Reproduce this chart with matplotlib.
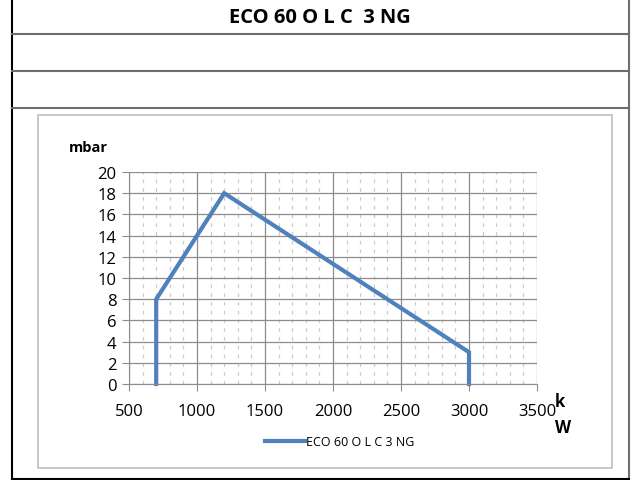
import matplotlib.pyplot as plt
from matplotlib.lines import Line2D
from matplotlib.patches import Rectangle
from matplotlib.ticker import MultipleLocator

# data
power_kw = [700, 700, 1200, 3000, 3000]
pressure_mbar = [0, 8, 18, 3, 0]
series_name = 'ECO 60 O L C 3 NG'
title_text = 'ECO 60 O L C  3 NG'

W, H = 633, 481
fig = plt.figure(figsize=(W / 100, H / 100), dpi=100)

def fx(px):
    return px / W

def fy(py):
    return 1 - py / H

# table frame around the chart
fig.add_artist(Line2D([fx(12), fx(12)], [fy(0), fy(480)], color='black', lw=1.5))
fig.add_artist(Line2D([fx(628.5), fx(628.5)], [fy(0), fy(480)], color='#707070', lw=1.5))
fig.add_artist(Line2D([fx(12), fx(628.5)], [fy(479.5), fy(479.5)], color='black', lw=1.5))
for yy in [35, 72, 109]:
    fig.add_artist(Line2D([fx(12), fx(628.5)], [fy(yy), fy(yy)], color='#6d6d6d', lw=1.5))

# inner chart frame
fig.add_artist(Rectangle((fx(38), fy(469)), fx(612) - fx(38), fy(116) - fy(469),
                         fill=False, edgecolor='#bfbfbf', lw=1.2))

fig.text(fx(320), fy(18), title_text, ha='center', va='center',
         fontsize=14.5, fontweight='bold', family='Open Sans')

ax = fig.add_axes([fx(129), fy(385), fx(537) - fx(129), fy(173) - fy(385)])
ax.plot(power_kw, pressure_mbar, color='#4f81bd', lw=3, label=series_name,
        solid_joinstyle='miter', clip_on=False)

ax.set_xlim(500, 3500)
ax.set_ylim(0, 20)
ax.xaxis.set_major_locator(MultipleLocator(500))
ax.xaxis.set_minor_locator(MultipleLocator(100))
ax.yaxis.set_major_locator(MultipleLocator(2))
ax.grid(which='major', color='#8c8c8c', lw=0.9)
ax.grid(which='minor', axis='x', color='#cccccc', lw=0.9, ls=(0, (3, 4)))
ax.set_axisbelow(True)
for s in ['top', 'right']:
    ax.spines[s].set_visible(False)
for s in ['left', 'bottom']:
    ax.spines[s].set_color('#8c8c8c')
ax.tick_params(which='major', length=5, color='#8c8c8c', labelsize=12)
ax.tick_params(axis='x', pad=9)
ax.tick_params(axis='y', pad=4)
ax.tick_params(which='minor', length=0)
for lab in ax.get_xticklabels() + ax.get_yticklabels():
    lab.set_family('Open Sans')

fig.text(fx(88), fy(148), 'mbar', ha='center', va='center', fontsize=10.5,
         fontweight='bold', family='Open Sans')
fig.text(fx(560), fy(402), 'k', ha='center', va='center', fontsize=12,
         fontweight='bold', family='Open Sans')
fig.text(fx(563), fy(428), 'W', ha='center', va='center', fontsize=12,
         fontweight='bold', family='Open Sans')

leg = fig.legend(loc='center', bbox_to_anchor=(fx(340), fy(443)), frameon=False,
                 prop={'family': 'Open Sans', 'size': 9}, handlelength=3.2,
                 handletextpad=0.1)

fig.savefig('out.png', dpi=100)
